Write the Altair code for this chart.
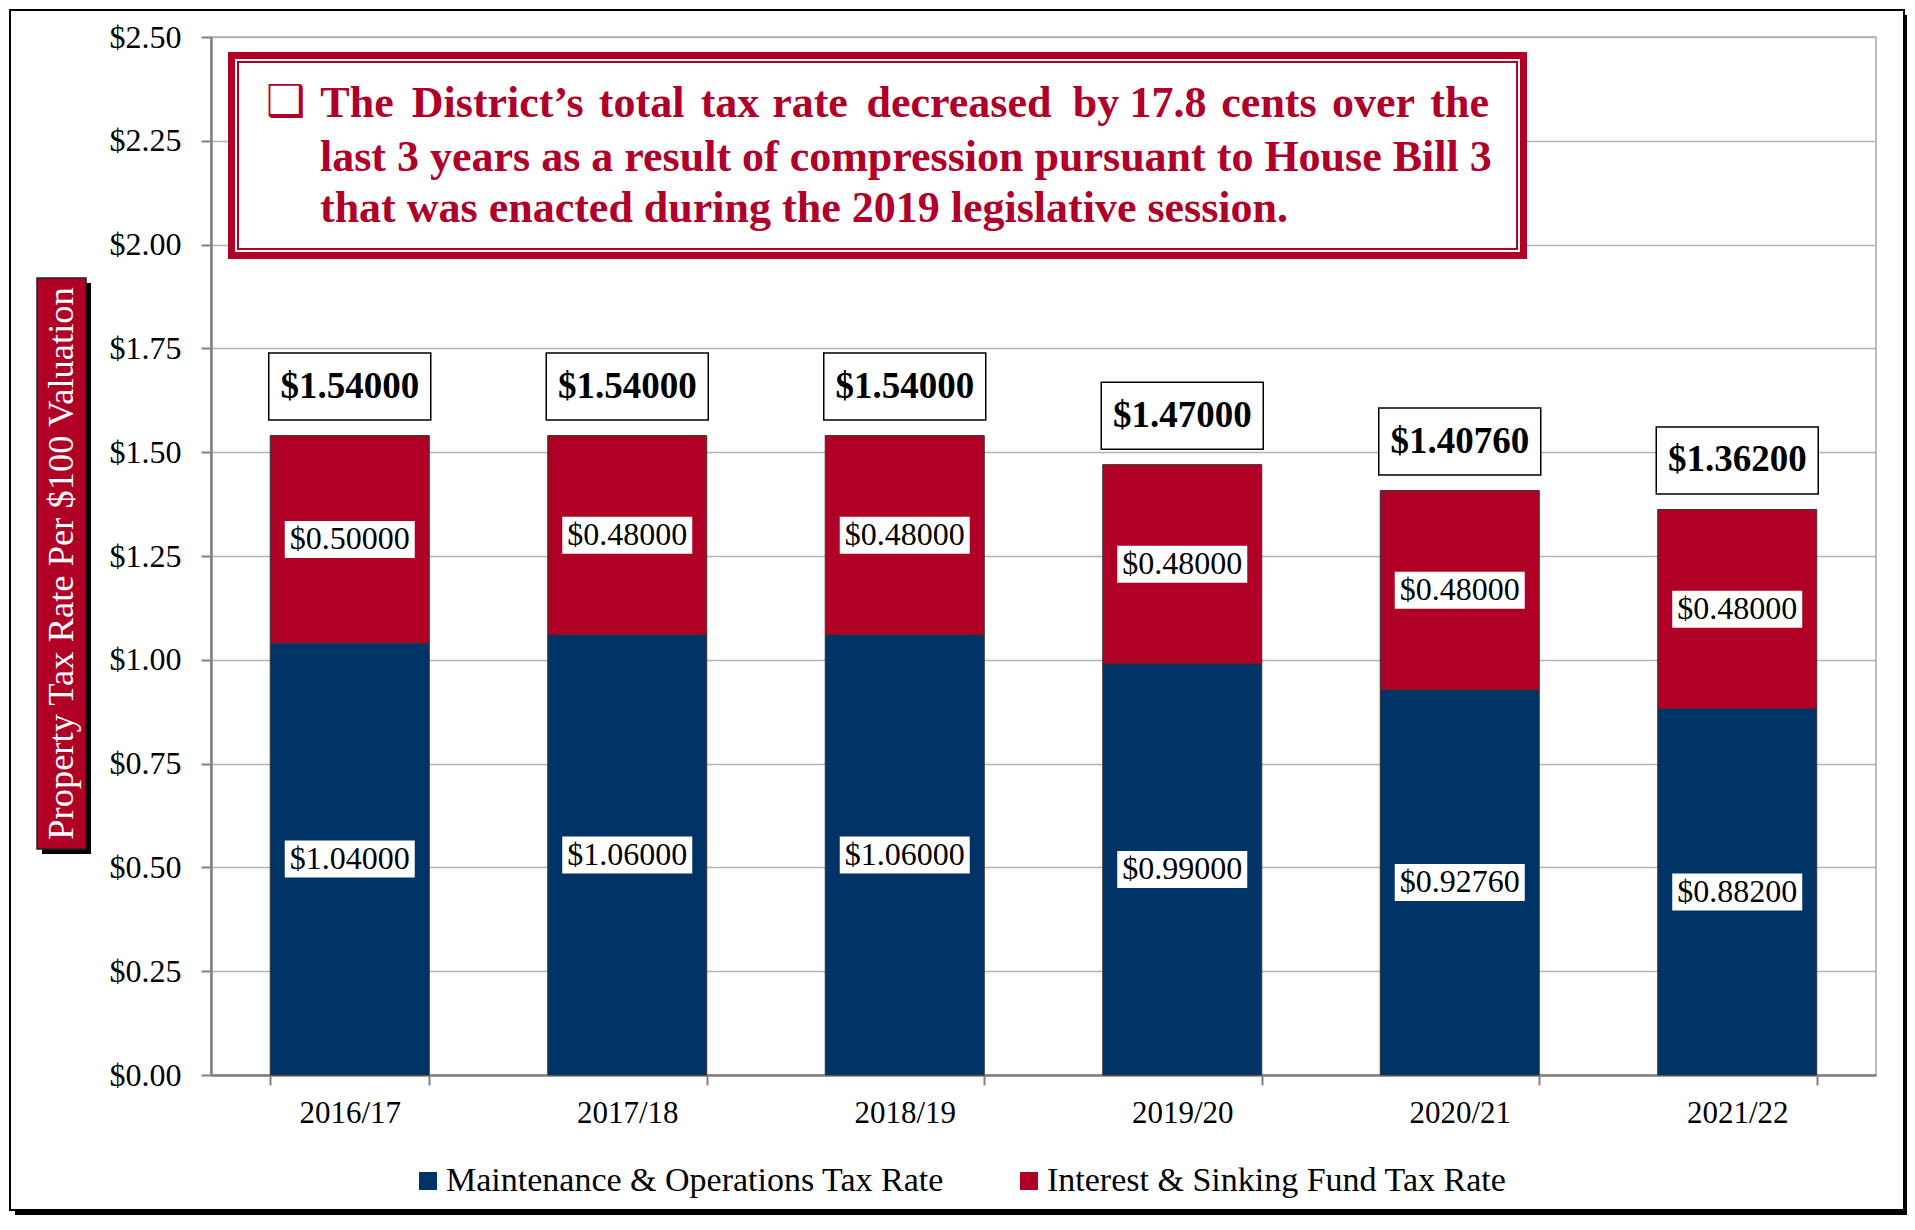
import altair as alt
import pandas as pd

# ---------------- data ----------------
years = ["2016/17", "2017/18", "2018/19", "2019/20", "2020/21", "2021/22"]
mo_rate = [1.04, 1.06, 1.06, 0.99, 0.9276, 0.882]
is_rate = [0.50, 0.48, 0.48, 0.48, 0.48, 0.48]
series = ["Maintenance & Operations Tax Rate", "Interest & Sinking Fund Tax Rate"]
colors = ["#003366", "#B00026"]
y_ticks = [0.0, 0.25, 0.5, 0.75, 1.0, 1.25, 1.5, 1.75, 2.0, 2.25, 2.5]
y_title = "Property Tax Rate Per $100 Valuation"
note_bullet = "\u2751"
note_line1 = ["The", "District\u2019s", "total", "tax", "rate", "decreased",
              "by", "17.8", "cents", "over", "the"]
note_line2 = "last 3 years as a result of compression pursuant to House Bill 3"
note_line3 = "that was enacted during the 2019 legislative session."

# ---------------- tables ----------------
rows = []
for yr, mo, i_s in zip(years, mo_rate, is_rate):
    rows.append({"year": yr, "series": series[0], "lo": 0.0, "hi": mo,
                 "mid": mo / 2, "value": mo})
    rows.append({"year": yr, "series": series[1], "lo": mo, "hi": mo + i_s,
                 "mid": mo + i_s / 2, "value": i_s})
seg = pd.DataFrame(rows)
tot = pd.DataFrame({"year": years,
                    "total": [round(a + b, 5) for a, b in zip(mo_rate, is_rate)]})
one = pd.DataFrame({"k": [0]})

# ---------------- layout constants (page pixels) ----------------
OX, OY = 211, 37          # plot-area origin on page
W, H = 1665, 1038
SERIF = "Liberation Serif"
RED = "#B00026"
TXTRED = "#B0002A"

x_axis = alt.Axis(title=None, labelAngle=0, labelFont=SERIF, labelFontSize=31,
                  labelColor="black", tickBand="extent", tickSize=10,
                  tickColor="#808080", tickWidth=2, domainColor="#808080",
                  domainWidth=2.5, labelPadding=13, grid=False)
y_axis = alt.Axis(title=None, values=y_ticks, format="$.2f", labelFont=SERIF,
                  labelFontSize=32, labelColor="black", tickSize=10,
                  tickColor="#808080", tickWidth=2, domainColor="#808080",
                  domainWidth=2.5, gridColor="#b3b3b3", gridWidth=1.5,
                  labelPadding=20)
x_scale = alt.Scale(domain=years, paddingInner=0.427, paddingOuter=0.2135)
y_scale = alt.Scale(domain=[0, 2.5], nice=False)

def X():
    return alt.X("year:N", sort=years, scale=x_scale, axis=x_axis)

def Y(f):
    return alt.Y(f, scale=y_scale, axis=y_axis)

def prect(x1, y1, x2, y2, **kw):
    return alt.Chart(one).mark_rect(**kw).encode(
        x=alt.value(x1 - OX), x2=alt.value(x2 - OX),
        y=alt.value(y1 - OY), y2=alt.value(y2 - OY))

def ptext(s, x, y, **kw):
    return alt.Chart(one).mark_text(text=s, **kw).encode(
        x=alt.value(x - OX), y=alt.value(y - OY))

# ---------------- outer frame ----------------
frame = [
    prect(1904, 15, 1911, 1216, color="black"),
    prect(15, 1210, 1911, 1216, color="black"),
    prect(10, 10, 1904, 1210, fillOpacity=0, stroke="black", strokeWidth=2),
]

# ---------------- bars ----------------
bars = alt.Chart(seg).mark_bar(stroke="#333333", strokeWidth=1).encode(
    x=X(), y=Y("hi:Q"), y2="lo:Q",
    color=alt.Color("series:N", scale=alt.Scale(domain=series, range=colors),
                    legend=alt.Legend(orient="none", legendX=200, legendY=1127,
                                      direction="horizontal", title=None,
                                      symbolType="square", symbolSize=324,
                                      symbolStrokeWidth=0, labelLimit=0,
                                      labelFont=SERIF, labelFontSize=34,
                                      labelColor="black", columnPadding=68,
                                      labelOffset=1, padding=0)),
)

mid_box_shape = "M-1,-0.2846L1,-0.2846L1,0.2846L-1,0.2846Z"
mid_boxes = alt.Chart(seg).mark_point(
    shape=mid_box_shape, size=130 * 130, filled=True, fill="white",
    strokeWidth=0, opacity=1).encode(x=X(), y=Y("mid:Q"))
mid_text = alt.Chart(seg).mark_text(
    font=SERIF, fontSize=32, color="black", baseline="middle").encode(
    x=X(), y=Y("mid:Q"), text=alt.Text("value:Q", format="$.5f"))

tot_box_shape = "M-1,-0.4136L1,-0.4136L1,0.4136L-1,0.4136Z"
tot_boxes = alt.Chart(tot).mark_point(
    shape=tot_box_shape, size=162 * 162, filled=True, fill="white",
    stroke="black", strokeWidth=1.5, opacity=1, yOffset=-49).encode(
    x=X(), y=Y("total:Q"))
tot_text = alt.Chart(tot).mark_text(
    font=SERIF, fontSize=37, fontWeight="bold", color="black",
    baseline="middle", dy=-49).encode(
    x=X(), y=Y("total:Q"), text=alt.Text("total:Q", format="$.5f"))

# ---------------- y title box ----------------
ytitle = [
    prect(42, 283, 91, 854, color="black"),
    prect(37, 278, 86, 849, color=RED, stroke="#222222", strokeWidth=1.5),
    ptext(y_title, 61.5, 563.5, angle=270, font=SERIF, fontSize=36.5,
          color="white", align="center", baseline="middle"),
]

# ---------------- annotation box ----------------
note = [
    prect(228, 52, 1527, 259, color=RED),
    prect(235, 59, 1520, 252, color="white"),
    prect(238, 62, 1517, 249, fillOpacity=0, stroke=RED, strokeWidth=2),
    ptext(note_bullet, 285.5, 103, font="DejaVu Sans", fontSize=44,
          fontWeight="bold", color=TXTRED, align="center", baseline="middle"),
]
word_centers = [357, 497.7, 641.6, 730, 810, 959, 1096, 1168, 1269, 1373.5, 1459.6]
for w, cx in zip(note_line1, word_centers):
    note.append(ptext(w, cx, 117, font=SERIF, fontSize=44, fontWeight="bold",
                      color=TXTRED, align="center", baseline="alphabetic"))
note.append(ptext(note_line2, 320, 171, font=SERIF, fontSize=44,
                  fontWeight="bold", color=TXTRED, align="left",
                  baseline="alphabetic"))
note.append(ptext(note_line3, 320, 222, font=SERIF, fontSize=44,
                  fontWeight="bold", color=TXTRED, align="left",
                  baseline="alphabetic"))

chart = alt.layer(
    *frame, bars, mid_boxes, mid_text, tot_boxes, tot_text, *ytitle, *note
).properties(
    width=W, height=H,
    autosize=alt.AutoSizeParams(type="none"),
    padding={"left": OX - 8, "top": OY - 8, "right": 31, "bottom": 140},
    background="white",
).configure_view(stroke="#a6a6a6", strokeWidth=1.5)

chart.save("out.html", embed_options={"renderer": "svg", "actions": False})
